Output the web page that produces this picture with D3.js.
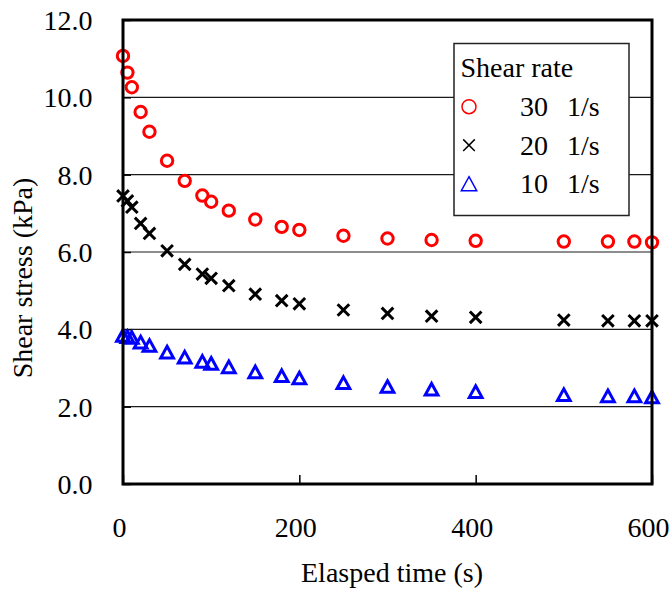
<!DOCTYPE html>
<html>
<head>
<meta charset="utf-8">
<script src="https://cdn.jsdelivr.net/npm/d3@7"></script>
<style>
  html, body { margin: 0; padding: 0; background: #fff; }
  svg { display: block; }
</style>
</head>
<body>
<svg id="chart" width="670" height="590"></svg>
<script>
// ---- data ----
const times = [0, 5, 10, 20, 30, 50, 70, 90, 100, 120, 150, 180, 200, 250, 300, 350, 400, 500, 550, 580, 600];
const stress30 = [11.07, 10.64, 10.26, 9.62, 9.11, 8.36, 7.84, 7.46, 7.30, 7.07, 6.84, 6.65, 6.57, 6.42, 6.35, 6.31, 6.29, 6.27, 6.27, 6.27, 6.25];
const stress20 = [7.45, 7.32, 7.16, 6.74, 6.48, 6.03, 5.68, 5.43, 5.32, 5.13, 4.91, 4.74, 4.66, 4.50, 4.41, 4.34, 4.31, 4.24, 4.22, 4.22, 4.22];
const stress10 = [3.84, 3.81, 3.79, 3.67, 3.58, 3.41, 3.28, 3.17, 3.12, 3.03, 2.90, 2.80, 2.74, 2.62, 2.52, 2.45, 2.39, 2.31, 2.28, 2.28, 2.25];
const shearRates = [30, 20, 10];
const xTicks = [0, 200, 400, 600];
const yTicks = [0, 2, 4, 6, 8, 10, 12];
const xTitle = "Elasped time (s)";
const yTitle = "Shear stress (kPa)";
const legendTitle = "Shear rate";
const unitLabel = "1/s";

const series = [
  { rate: shearRates[0], values: stress30, color: "#FF0000", shape: "circle" },
  { rate: shearRates[1], values: stress20, color: "#000000", shape: "cross" },
  { rate: shearRates[2], values: stress10, color: "#0000FF", shape: "triangle" }
];

const TSTYLE = "font-family:'Liberation Serif';font-size:28px;fill:#000";
const svg = d3.select("#chart");
const L = 123, R = 652, T = 20, B = 484;
const x = d3.scaleLinear().domain([0, 600]).range([L, R]);
const y = d3.scaleLinear().domain([0, 12]).range([B, T]);

// gridlines
svg.append("g").selectAll("line").data(yTicks.filter(v => v > 0 && v < 12)).join("line")
  .attr("x1", L).attr("x2", R).attr("y1", d => y(d)).attr("y2", d => y(d))
  .attr("stroke", "#1a1a1a").attr("stroke-width", 1.2);

// axes via d3 (inward ticks)
const yAxis = d3.axisLeft(y).tickValues(yTicks).tickSize(-8).tickFormat(d3.format(".1f"));
const gy = svg.append("g").attr("transform", `translate(${L},0)`).call(yAxis);
gy.select(".domain").remove();
gy.selectAll(".tick line").attr("stroke", "#000").attr("stroke-width", 1.5);
gy.selectAll(".tick text").attr("x", -30.5).attr("dy", "0.34em").attr("style", TSTYLE);

const xAxis = d3.axisBottom(x).tickValues(xTicks).tickSize(-9).tickFormat(d3.format("d"));
const gx = svg.append("g").attr("transform", `translate(0,${B})`).call(xAxis);
gx.select(".domain").remove();
gx.selectAll(".tick line").attr("stroke", "#000").attr("stroke-width", 1.5);
gx.selectAll(".tick text").attr("y", 53).attr("dy", 0).attr("x", -4).attr("style", TSTYLE);

// marker drawing
function drawMarker(g, shape, color, s, sw) {
  if (shape === "circle") {
    g.append("circle").attr("r", s).attr("fill", "none").attr("stroke", color).attr("stroke-width", sw);
  } else if (shape === "cross") {
    g.append("path").attr("d", `M${-s},${-s}L${s},${s}M${-s},${s}L${s},${-s}`)
      .attr("fill", "none").attr("stroke", color).attr("stroke-width", sw);
  } else {
    const w = s * 1.1, h = s;
    g.append("path").attr("d", `M0,${-h}L${w},${h}L${-w},${h}Z`)
      .attr("fill", "none").attr("stroke", color).attr("stroke-width", sw).attr("stroke-linejoin", "miter");
  }
}

// data points
series.forEach(sr => {
  const g = svg.append("g");
  sr.values.forEach((v, i) => {
    const m = g.append("g").attr("transform", `translate(${x(times[i])},${y(v)})`);
    drawMarker(m, sr.shape, sr.color, sr.shape === "circle" ? 5.7 : 5.8, 3);
  });
});

// frame
svg.append("rect").attr("x", L).attr("y", T).attr("width", R - L).attr("height", B - T)
  .attr("fill", "none").attr("stroke", "#000").attr("stroke-width", 3);

// legend
const lg = svg.append("g");
lg.append("rect").attr("x", 454).attr("y", 43.5).attr("width", 175).attr("height", 172)
  .attr("fill", "#fff").attr("stroke", "#222").attr("stroke-width", 1.5);
lg.append("text").attr("x", 460.5).attr("y", 77).attr("style", TSTYLE).text(legendTitle);
series.forEach((sr, i) => {
  const cy = 106.7 + i * 38.5;
  const m = lg.append("g").attr("transform", `translate(469,${cy})`);
  drawMarker(m, sr.shape, sr.color, sr.shape === "circle" ? 7 : (sr.shape === "cross" ? 5.8 : 7), 1.5);
  lg.append("text").attr("x", 520).attr("y", cy + 9.5).attr("style", TSTYLE).text(sr.rate);
  lg.append("text").attr("x", 567).attr("y", cy + 9.5).attr("style", TSTYLE).text(unitLabel);
});

// axis titles
svg.append("text").attr("x", 392).attr("y", 582).attr("text-anchor", "middle").attr("style", TSTYLE).text(xTitle);
svg.append("text").attr("transform", "translate(32,278) rotate(-90)").attr("text-anchor", "middle")
  .attr("style", TSTYLE).text(yTitle);
</script>
</body>
</html>
